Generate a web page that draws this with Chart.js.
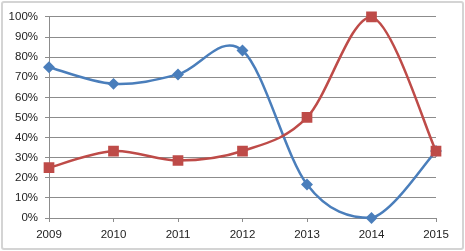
<!DOCTYPE html>
<html>
<head>
<meta charset="utf-8">
<script src="https://cdn.jsdelivr.net/npm/chart.js@4/dist/chart.umd.min.js"></script>
<style>
  html, body { margin: 0; padding: 0; background: #fff; }
  #wrap {
    position: absolute; left: 1px; top: 1px; width: 459px; height: 245px;
    border: 2px solid #d4d4d4; border-radius: 3px; background: #fff;
  }
  canvas { display: block; }
</style>
</head>
<body>
<div id="wrap"><canvas id="chart" width="459" height="245"></canvas></div>
<script>
const years = ['2009', '2010', '2011', '2012', '2013', '2014', '2015'];
const blueSeries = [75, 66.7, 71.4, 83.3, 16.7, 0, 33.3];
const redSeries = [25, 33.3, 28.6, 33.3, 50, 100, 33.3];
const yTicks = [0, 10, 20, 30, 40, 50, 60, 70, 80, 90, 100];

// spreadsheet-style smoothing: uniform catmull-rom control points, kept inside the plot
const smoothLines = {
  id: 'smoothLines',
  afterDatasetsUpdate(chart) {
    const area = chart.chartArea;
    const clampY = y => Math.min(area.bottom, Math.max(area.top, y));
    chart.getSortedVisibleDatasetMetas().forEach(meta => {
      const pts = meta.data;
      pts.forEach((p, i) => {
        const prev = pts[i - 1] || p;
        const next = pts[i + 1] || p;
        const dx = (next.x - prev.x) / 6;
        const dy = (next.y - prev.y) / 6;
        p.cp1x = p.x - dx;
        p.cp1y = clampY(p.y - dy);
        p.cp2x = p.x + dx;
        p.cp2y = clampY(p.y + dy);
      });
      meta.dataset._pointsUpdated = true;
    });
  }
};

const ctx = document.getElementById('chart').getContext('2d');
const chart = new Chart(ctx, {
  type: 'line',
  data: {
    labels: years,
    datasets: [{
      data: blueSeries,
      borderColor: '#4a7ebb',
      backgroundColor: '#4a7ebb',
      borderWidth: 2.5,
      pointStyle: 'rectRot',
      pointRadius: 4.2,
      tension: 0.4,
      clip: false,
      order: 1
    }, {
      data: redSeries,
      borderColor: '#be4b48',
      backgroundColor: '#be4b48',
      borderWidth: 2.5,
      pointStyle: 'rect',
      pointRadius: 5.8,
      tension: 0.4,
      clip: false,
      order: 0
    }]
  },
  options: {
    responsive: false,
    animation: false,
    layout: { padding: { top: 11, right: 26, bottom: 0, left: 0 } },
    plugins: {
      legend: { display: false },
      tooltip: { enabled: false }
    },
    scales: {
      x: {
        offset: false,
        afterFit: axis => { axis.height = 30; },
        grid: { drawOnChartArea: false, drawTicks: true, tickLength: 4, color: '#8c8c8c' },
        border: { color: '#8c8c8c', width: 1 },
        ticks: { color: '#222', font: { family: 'Liberation Sans', size: 11.5 }, padding: 6, maxRotation: 0 }
      },
      y: {
        min: 0,
        max: 100,
        afterBuildTicks: axis => { axis.ticks = yTicks.map(v => ({ value: v })); },
        afterFit: axis => { axis.width = 46; },
        grid: { color: '#8c8c8c', tickLength: 4 },
        border: { color: '#8c8c8c', width: 1 },
        ticks: {
          color: '#222',
          font: { family: 'Liberation Sans', size: 11.5 },
          padding: 7,
          callback: v => v + '%'
        }
      }
    }
  },
  plugins: [smoothLines]
});
</script>
</body>
</html>
